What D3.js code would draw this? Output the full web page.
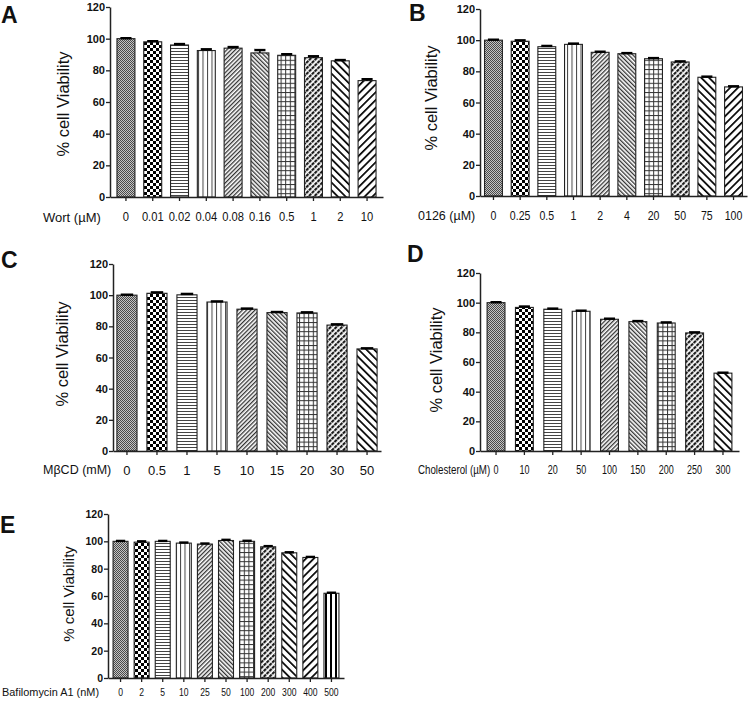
<!DOCTYPE html>
<html>
<head>
<meta charset="utf-8">
<script src="https://cdn.jsdelivr.net/npm/d3@7"></script>
<style>
body { margin: 0; background: #fff; }
text { font-family: Arial, "Liberation Sans", sans-serif; fill: #111; }
</style>
</head>
<body>
<script>
// ---- data ----
var yTicks = [0, 20, 40, 60, 80, 100, 120];

var wortDoses = ["0", "0.01", "0.02", "0.04", "0.08", "0.16", "0.5", "1", "2", "10"];
var wortViability = [100, 98, 96, 92.5, 94, 91, 89.5, 88, 86, 73.5];
var wortError = [0.3, 0.4, 0.6, 0.8, 0.7, 1.8, 0.7, 0.9, 0.5, 0.9];

var u0126Doses = ["0", "0.25", "0.5", "1", "2", "4", "20", "50", "75", "100"];
var u0126Viability = [100, 99.3, 95.8, 97.3, 92.2, 91.3, 88.1, 86, 76.2, 70];
var u0126Error = [0.3, 0.6, 0.5, 0.5, 0.4, 0.4, 0.4, 0.4, 0.4, 0.4];

var mbcdDoses = ["0", "0.5", "1", "5", "10", "15", "20", "30", "50"];
var mbcdViability = [100, 101.2, 100.2, 95.6, 91, 88.8, 88.6, 80.8, 65.5];
var mbcdError = [0.3, 0.6, 0.6, 0.4, 0.4, 0.4, 0.4, 0.5, 0.4];

var cholDoses = ["0", "10", "20", "50", "100", "150", "200", "250", "300"];
var cholViability = [100, 96.8, 95.6, 94.2, 88.8, 87.2, 86.3, 79.6, 52.5];
var cholError = [0.3, 0.6, 0.4, 0.4, 0.4, 0.4, 0.4, 0.4, 0.3];

var bafDoses = ["0", "2", "5", "10", "25", "50", "100", "200", "300", "400", "500"];
var bafViability = [100, 99.4, 100, 98.7, 98, 100.6, 100, 96, 91.6, 88.2, 62];
var bafError = [0.3, 0.6, 0.3, 0.4, 0.4, 0.5, 0.4, 0.5, 0.4, 0.4, 0.4];

var svg = d3.select("body").append("svg").attr("width", 750).attr("height", 704);

// ---- fill patterns (GraphPad style) ----
var defs = svg.append("defs");
function pat(id, w, h, rot, bg) {
	var p = defs.append("pattern").attr("id", id)
		.attr("patternUnits", "userSpaceOnUse")
		.attr("width", w).attr("height", h);
	if (rot) p.attr("patternTransform", "rotate(" + rot + ")");
	p.append("rect").attr("width", w).attr("height", h).attr("fill", bg || "#fff");
	return p;
}
// 0 gray dither
var p0 = pat("p0", 2, 2, 0, "#c4c4c4");
p0.append("rect").attr("x", 0).attr("y", 0).attr("width", 1).attr("height", 1).attr("fill", "#4a4a4a");
p0.append("rect").attr("x", 1).attr("y", 1).attr("width", 1).attr("height", 1).attr("fill", "#4a4a4a");
// 1 checkerboard
var p1 = pat("p1", 6, 6);
p1.append("rect").attr("x", 0).attr("y", 0).attr("width", 3).attr("height", 3).attr("fill", "#000");
p1.append("rect").attr("x", 3).attr("y", 3).attr("width", 3).attr("height", 3).attr("fill", "#000");
// 2 horizontal lines
var p2 = pat("p2", 3, 3);
p2.append("rect").attr("x", 0).attr("y", 0).attr("width", 3).attr("height", 1).attr("fill", "#444");
// 3 vertical lines
var p3 = pat("p3", 4.5, 4);
p3.append("rect").attr("x", 0).attr("y", 0).attr("width", 1).attr("height", 4).attr("fill", "#444");
// 4 fine "/" and 5 fine "\"
var p4 = pat("p4", 3, 3, 45);
p4.append("rect").attr("x", 0).attr("y", 0).attr("width", 1.3).attr("height", 3).attr("fill", "#333");
var p5 = pat("p5", 3, 3, -45);
p5.append("rect").attr("x", 0).attr("y", 0).attr("width", 1.3).attr("height", 3).attr("fill", "#333");
// 6 grid
var p6 = pat("p6", 4.6, 4.6);
p6.append("rect").attr("x", 0).attr("y", 0).attr("width", 4.6).attr("height", 1).attr("fill", "#333");
p6.append("rect").attr("x", 0).attr("y", 0).attr("width", 1).attr("height", 4.6).attr("fill", "#333");
// 7 dashed diagonal
var p7 = pat("p7", 4, 4, 45);
p7.append("rect").attr("x", 0).attr("y", 0).attr("width", 2.2).attr("height", 4).attr("fill", "#1a1a1a");
p7.append("rect").attr("x", 0).attr("y", 0).attr("width", 4).attr("height", 0.7).attr("fill", "#fff");
// 8 wide "\" and 9 wide "/"
var p8 = pat("p8", 5.5, 5.5, -45);
p8.append("rect").attr("x", 0).attr("y", 0).attr("width", 1.7).attr("height", 5.5).attr("fill", "#000");
var p9 = pat("p9", 5.5, 5.5, 45);
p9.append("rect").attr("x", 0).attr("y", 0).attr("width", 1.7).attr("height", 5.5).attr("fill", "#000");
// 10 thick vertical
var p10 = pat("p10", 5, 4);
p10.append("rect").attr("x", 0).attr("y", 0).attr("width", 2).attr("height", 4).attr("fill", "#000");

// ---- one panel ----
function drawPanel(p) {
	var g = svg.append("g");

	var x = d3.scaleBand().domain(p.doses).range([p.left, p.right])
		.paddingInner(p.padIn).paddingOuter(p.padOut);
	var y = d3.scaleLinear().domain([0, 120]).range([p.bottom, p.top]);

	// bars
	g.selectAll("rect.bar").data(p.values).enter().append("rect")
		.attr("class", "bar")
		.attr("x", function(d, i) { return x(p.doses[i]); })
		.attr("y", function(d) { return y(d); })
		.attr("width", x.bandwidth())
		.attr("height", function(d) { return y(0) - y(d); })
		.attr("fill", function(d, i) { return "url(#p" + i + ")"; })
		.attr("stroke", "#222")
		.attr("stroke-width", 1.1);

	// error bars (upper only)
	var capW = x.bandwidth() * 0.62;
	p.values.forEach(function(v, i) {
		var cx = x(p.doses[i]) + x.bandwidth() / 2;
		g.append("line").attr("x1", cx).attr("x2", cx)
			.attr("y1", y(v)).attr("y2", y(v + p.errors[i]))
			.attr("stroke", "#000").attr("stroke-width", 1.5);
		g.append("line").attr("x1", cx - capW / 2).attr("x2", cx + capW / 2)
			.attr("y1", y(v + p.errors[i])).attr("y2", y(v + p.errors[i]))
			.attr("stroke", "#000").attr("stroke-width", 2.4);
	});

	// y axis
	var ya = g.append("g").attr("transform", "translate(" + p.left + ",0)")
		.call(d3.axisLeft(y).tickValues(yTicks).tickSize(4).tickSizeOuter(0).tickPadding(1));
	ya.select(".domain").attr("stroke", "#222").attr("stroke-width", 1.5);
	ya.selectAll(".tick line").attr("stroke", "#222").attr("stroke-width", 1.3);
	ya.selectAll("text").attr("font-size", p.yfs).attr("font-weight", "bold")
		.attr("font-family", "Arial, 'Liberation Sans', sans-serif").attr("fill", "#111");

	// x axis
	var xa = g.append("g").attr("transform", "translate(0," + p.bottom + ")")
		.call(d3.axisBottom(x).tickSize(4).tickSizeOuter(0));
	xa.select(".domain").attr("stroke", "#222").attr("stroke-width", 1.5);
	xa.selectAll(".tick line").attr("stroke", "#222").attr("stroke-width", 1.3);
	xa.selectAll("text").attr("font-size", p.xfs).attr("y", p.labOff).attr("dy", "0.35em")
		.attr("transform", "scale(" + p.xsx + ",1)")
		.attr("font-family", "Arial, 'Liberation Sans', sans-serif").attr("fill", "#111");

	// x title
	g.append("text").attr("transform", "translate(" + p.titleX + "," + (p.bottom + p.labOff) + ") scale(" + p.tsx + ",1)")
		.attr("dy", "0.35em").attr("font-size", p.tfs).text(p.title);

	// y title
	g.append("text").attr("transform", "translate(" + p.ylabX + "," + p.ylabY + ") rotate(-90)")
		.attr("text-anchor", "middle").attr("dy", "0.35em")
		.attr("font-size", p.ylfs).text("% cell Viability");

	// panel letter
	g.append("text").attr("x", p.letterX).attr("y", p.letterY)
		.attr("font-size", 23).attr("font-weight", "bold").text(p.letter);
}

drawPanel({ letter: "A", letterX: 1, letterY: 23, doses: wortDoses, values: wortViability, errors: wortError,
	left: 110, right: 383, top: 7, bottom: 197, padIn: 0.33, padOut: 0.26,
	yfs: 11, xfs: 12, xsx: 0.93, labOff: 20, title: "Wort (\u00b5M)", titleX: 43, tfs: 13, tsx: 1,
	ylabX: 63, ylabY: 104, ylfs: 16.5 });

drawPanel({ letter: "B", letterX: 409, letterY: 21, doses: u0126Doses, values: u0126Viability, errors: u0126Error,
	left: 480, right: 747, top: 9, bottom: 196, padIn: 0.33, padOut: 0.17,
	yfs: 11, xfs: 12, xsx: 0.88, labOff: 20, title: "0126 (\u00b5M)", titleX: 418, tfs: 12.5, tsx: 1,
	ylabX: 431, ylabY: 98, ylfs: 16.5 });

drawPanel({ letter: "C", letterX: 1, letterY: 268, doses: mbcdDoses, values: mbcdViability, errors: mbcdError,
	left: 113, right: 381, top: 264, bottom: 451, padIn: 0.33, padOut: 0.13,
	yfs: 11, xfs: 13, xsx: 1, labOff: 19, title: "M\u03b2CD (mM)", titleX: 43, tfs: 12.5, tsx: 1,
	ylabX: 62, ylabY: 354, ylfs: 16.5 });

drawPanel({ letter: "D", letterX: 407, letterY: 262, doses: cholDoses, values: cholViability, errors: cholError,
	left: 480, right: 739, top: 273, bottom: 451, padIn: 0.37, padOut: 0.25,
	yfs: 11, xfs: 12, xsx: 0.75, labOff: 19, title: "Cholesterol (\u00b5M)", titleX: 418, tfs: 12.5, tsx: 0.78,
	ylabX: 436, ylabY: 360, ylfs: 16.5 });

drawPanel({ letter: "E", letterX: 0, letterY: 533, doses: bafDoses, values: bafViability, errors: bafError,
	left: 108, right: 344, top: 514, bottom: 678, padIn: 0.29, padOut: 0.24,
	yfs: 10.5, xfs: 11, xsx: 0.78, labOff: 14, title: "Bafilomycin A1 (nM)", titleX: 2, tfs: 11.5, tsx: 0.95,
	ylabX: 69, ylabY: 594, ylfs: 15 });
</script>
</body>
</html>
